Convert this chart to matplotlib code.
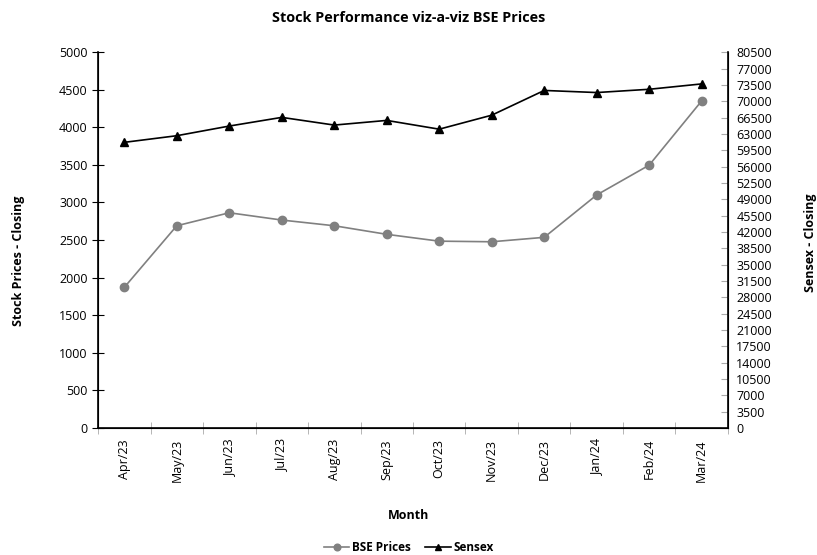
import matplotlib.pyplot as plt
from matplotlib.ticker import MultipleLocator

plt.rcParams['font.family'] = ['Open Sans', 'DejaVu Sans']

# Monthly closing data
months = ["Apr/23", "May/23", "Jun/23", "Jul/23", "Aug/23", "Sep/23",
          "Oct/23", "Nov/23", "Dec/23", "Jan/24", "Feb/24", "Mar/24"]
bse_prices = [1870, 2690, 2863, 2766, 2690, 2576, 2485, 2477, 2536, 3100, 3497, 4352]
sensex = [61180, 62600, 64670, 66530, 64880, 65880, 64000, 67000, 72300, 71850, 72550, 73700]

fig = plt.figure(figsize=(8.17, 5.55), dpi=100)
ax = fig.add_axes([0.12, 0.229, 0.771, 0.677])
ax2 = ax.twinx()

x = list(range(len(months)))
l1, = ax.plot(x, bse_prices, color="#808080", marker="o", markersize=6, linewidth=1.2)
l2, = ax2.plot(x, sensex, color="black", marker="^", markersize=6, linewidth=1.2)

ax.set_xlim(-0.5, len(months) - 0.5)
ax.set_ylim(0, 5000)
ax.yaxis.set_major_locator(MultipleLocator(500))
ax2.set_ylim(0, 80500)
ax2.yaxis.set_major_locator(MultipleLocator(3500))

# category labels at centres, tick marks at boundaries
ax.set_xticks(x)
ax.set_xticklabels(months, rotation=90, fontsize=9)
ax.set_xticks([i - 0.5 for i in range(len(months) + 1)], minor=True)
ax.tick_params(axis="x", which="major", length=0, pad=8)
ax.tick_params(axis="x", which="minor", length=8, direction="inout", color="#aaaaaa")
ax.tick_params(axis="y", labelsize=9, direction="inout", length=8)
ax2.tick_params(axis="y", labelsize=9, direction="in", length=5, color="#aaaaaa", pad=6)

ax.spines["top"].set_visible(False)
ax2.spines["top"].set_visible(False)
for s in ["left", "bottom"]:
    ax.spines[s].set_linewidth(1.2)
ax2.spines["right"].set_linewidth(1.2)

fig.text(0.5, 0.967, "Stock Performance viz-a-viz BSE Prices", ha="center", va="center",
         fontsize=10.4, fontweight="bold")
fig.text(0.023, 0.53, "Stock Prices - Closing", rotation=90, ha="center", va="center",
         fontsize=9, fontweight="bold")
fig.text(0.992, 0.562, "Sensex - Closing", rotation=90, ha="center", va="center",
         fontsize=9, fontweight="bold")
fig.text(0.5, 0.072, "Month", ha="center", va="center", fontsize=9, fontweight="bold")

leg = fig.legend([l1, l2], ["BSE Prices", "Sensex"], loc="center", bbox_to_anchor=(0.5, 0.014),
                 ncol=2, frameon=False, fontsize=8.5, handlelength=2.2, columnspacing=1.2,
                 handletextpad=0.2, markerscale=0.8)
for t in leg.get_texts():
    t.set_fontweight("bold")

fig.savefig("out.png", dpi=100)
